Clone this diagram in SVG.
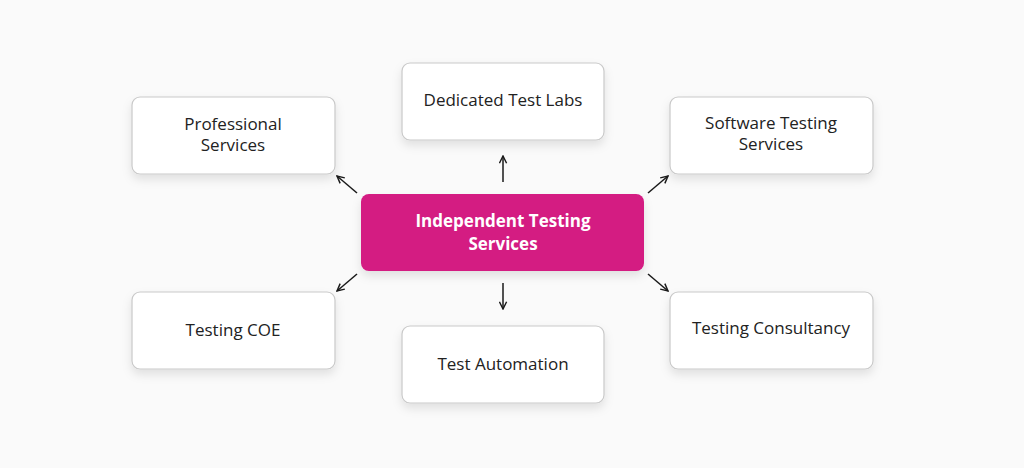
<svg xmlns="http://www.w3.org/2000/svg" width="1024" height="468" viewBox="0 0 1024 468">
<defs>
<style>
.box{fill:#fff;stroke:#c9c9c9;stroke-width:1.2;filter:url(#sh)}
.lbl{font-family:"Open Sans","Liberation Sans",sans-serif;font-size:17px;fill:#222;text-anchor:middle}
.ctr{font-family:"Open Sans","Liberation Sans",sans-serif;font-size:17px;font-weight:bold;fill:#fff;text-anchor:middle}
.arr{stroke:#1a1a1a;stroke-width:1.5;fill:none;marker-end:url(#ah)}
</style>
<filter id="sh" x="-20%" y="-30%" width="140%" height="170%">
<feDropShadow dx="0" dy="5" stdDeviation="5" flood-color="#000" flood-opacity="0.10"/>
</filter>
<marker id="ah" viewBox="0 0 10 10" refX="9" refY="5" markerWidth="9" markerHeight="9" markerUnits="userSpaceOnUse" orient="auto">
<path d="M1,1 L9,5 L1,9" fill="none" stroke="#1a1a1a" stroke-width="1.6"/>
</marker>
</defs>
<rect width="1024" height="468" fill="#fafafa"/>
<g id="connectors">
<line class="arr" x1="503" y1="182" x2="503" y2="156"/>
<line class="arr" x1="503" y1="283" x2="503" y2="309"/>
<line class="arr" x1="357" y1="193" x2="337" y2="176"/>
<line class="arr" x1="648" y1="193" x2="668" y2="176"/>
<line class="arr" x1="357" y1="274" x2="337" y2="291"/>
<line class="arr" x1="648" y1="274" x2="668" y2="291"/>
</g>
<g id="center">
<rect x="361" y="194" width="283" height="77" rx="8" fill="#d41a82" filter="url(#sh)"/>
<text class="ctr"><tspan x="503" y="227">Independent Testing</tspan><tspan x="503" y="250">Services</tspan></text>
</g>
<g id="professional">
<rect class="box" x="132" y="97" width="203" height="77" rx="8"/>
<text class="lbl"><tspan x="233" y="130">Professional</tspan><tspan x="233" y="151">Services</tspan></text>
</g>
<g id="labs">
<rect class="box" x="402" y="63" width="202" height="77" rx="8"/>
<text class="lbl" x="503" y="106">Dedicated Test Labs</text>
</g>
<g id="software">
<rect class="box" x="670" y="97" width="203" height="77" rx="8"/>
<text class="lbl"><tspan x="771" y="129">Software Testing</tspan><tspan x="771" y="150">Services</tspan></text>
</g>
<g id="coe">
<rect class="box" x="132" y="292" width="203" height="77" rx="8"/>
<text class="lbl" x="233" y="336">Testing COE</text>
</g>
<g id="automation">
<rect class="box" x="402" y="326" width="202" height="77" rx="8"/>
<text class="lbl" x="503" y="370">Test Automation</text>
</g>
<g id="consultancy">
<rect class="box" x="670" y="292" width="203" height="77" rx="8"/>
<text class="lbl" x="771" y="334">Testing Consultancy</text>
</g>
</svg>
